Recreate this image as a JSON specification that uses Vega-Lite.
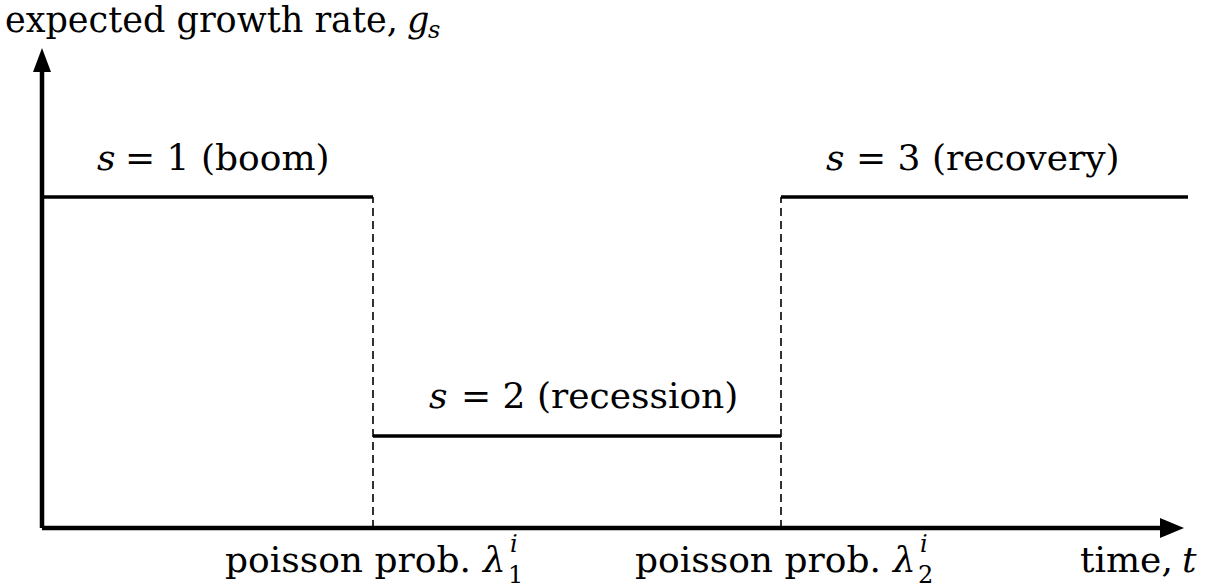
{
  "$schema": "https://vega.github.io/schema/vega-lite/v6.json",
  "width": 1218,
  "height": 588,
  "padding": 0,
  "autosize": {"type": "fit", "contains": "padding"},
  "background": "white",
  "config": {"view": {"stroke": null}},
  "datasets": {
    "vaxis": [{"x": 0, "y": 0, "y2": 4.56}],
    "haxis": [{"x": 0, "x2": 11.18, "y": 0}],
    "uparrow": [{"x": 0, "y": 4.68}],
    "rightarrow": [{"x": 11.30, "y": 0}],
    "steps": [
      {"x": 0, "x2": 3.31, "y": 3.31},
      {"x": 3.31, "x2": 7.39, "y": 0.92},
      {"x": 7.39, "x2": 11.46, "y": 3.31}
    ],
    "dashes": [
      {"x": 3.31, "y": 0, "y2": 3.31},
      {"x": 7.39, "y": 0, "y2": 3.31}
    ],
    "title": [
      {"x": -0.37, "y": 4.96, "label": "expected growth rate,"}
    ],
    "titleitalic": [
      {"x": 3.65, "y": 4.96, "label": "g"}
    ],
    "upright": [
      {"x": 0.83, "y": 3.58, "label": "= 1 (boom)"},
      {"x": 4.19, "y": 1.20, "label": "= 2 (recession)"},
      {"x": 8.14, "y": 3.58, "label": "= 3 (recovery)"},
      {"x": 1.83, "y": -0.44, "label": "poisson prob."},
      {"x": 5.93, "y": -0.44, "label": "poisson prob."},
      {"x": 10.38, "y": -0.44, "label": "time,"}
    ],
    "uprightsmall": [
      {"x": 4.66, "y": -0.545, "label": "1"},
      {"x": 8.76, "y": -0.545, "label": "2"}
    ],
    "italic": [
      {"x": 0.55, "y": 3.58, "label": "s"},
      {"x": 3.87, "y": 1.20, "label": "s"},
      {"x": 7.84, "y": 3.58, "label": "s"},
      {"x": 4.41, "y": -0.44, "label": "λ"},
      {"x": 8.51, "y": -0.44, "label": "λ"},
      {"x": 11.40, "y": -0.44, "label": "t"}
    ],
    "italicsmall": [
      {"x": 3.86, "y": 4.90, "label": "s"},
      {"x": 4.68, "y": -0.235, "label": "i"},
      {"x": 8.78, "y": -0.235, "label": "i"}
    ]
  },
  "layer": [
    {
      "data": {"name": "vaxis"},
      "mark": {"type": "rule", "strokeWidth": 4.5, "color": "black"},
      "encoding": {
        "x": {"field": "x", "type": "quantitative", "scale": {"domain": [-0.42, 11.76], "nice": false, "zero": false}, "axis": null},
        "y": {"field": "y", "type": "quantitative", "scale": {"domain": [-0.6, 5.28], "nice": false, "zero": false}, "axis": null},
        "y2": {"field": "y2"}
      }
    },
    {
      "data": {"name": "haxis"},
      "mark": {"type": "rule", "strokeWidth": 4.5, "color": "black"},
      "encoding": {
        "x": {"field": "x", "type": "quantitative", "axis": null},
        "x2": {"field": "x2"},
        "y": {"field": "y", "type": "quantitative", "axis": null}
      }
    },
    {
      "data": {"name": "uparrow"},
      "mark": {"type": "point", "shape": "M-0.75,1 L0,-1 L0.75,1 Z", "size": 576, "filled": true, "color": "black", "opacity": 1},
      "encoding": {
        "x": {"field": "x", "type": "quantitative", "axis": null},
        "y": {"field": "y", "type": "quantitative", "axis": null}
      }
    },
    {
      "data": {"name": "rightarrow"},
      "mark": {"type": "point", "shape": "M-1,-0.83 L1,0 L-1,0.83 Z", "size": 576, "filled": true, "color": "black", "opacity": 1},
      "encoding": {
        "x": {"field": "x", "type": "quantitative", "axis": null},
        "y": {"field": "y", "type": "quantitative", "axis": null}
      }
    },
    {
      "data": {"name": "steps"},
      "mark": {"type": "rule", "strokeWidth": 3.5, "color": "black"},
      "encoding": {
        "x": {"field": "x", "type": "quantitative", "axis": null},
        "x2": {"field": "x2"},
        "y": {"field": "y", "type": "quantitative", "axis": null}
      }
    },
    {
      "data": {"name": "dashes"},
      "mark": {"type": "rule", "strokeWidth": 1.6, "color": "black", "strokeDash": [8, 5]},
      "encoding": {
        "x": {"field": "x", "type": "quantitative", "axis": null},
        "y": {"field": "y", "type": "quantitative", "axis": null},
        "y2": {"field": "y2"}
      }
    },
    {
      "data": {"name": "title"},
      "mark": {"type": "text", "font": "DejaVu Serif", "fontSize": 35, "align": "left", "baseline": "alphabetic", "color": "black"},
      "encoding": {
        "x": {"field": "x", "type": "quantitative", "axis": null},
        "y": {"field": "y", "type": "quantitative", "axis": null},
        "text": {"field": "label"}
      }
    },
    {
      "data": {"name": "titleitalic"},
      "mark": {"type": "text", "font": "DejaVu Serif", "fontStyle": "italic", "fontSize": 35, "align": "left", "baseline": "alphabetic", "color": "black"},
      "encoding": {
        "x": {"field": "x", "type": "quantitative", "axis": null},
        "y": {"field": "y", "type": "quantitative", "axis": null},
        "text": {"field": "label"}
      }
    },
    {
      "data": {"name": "upright"},
      "mark": {"type": "text", "font": "DejaVu Serif", "fontSize": 36, "align": "left", "baseline": "alphabetic", "color": "black"},
      "encoding": {
        "x": {"field": "x", "type": "quantitative", "axis": null},
        "y": {"field": "y", "type": "quantitative", "axis": null},
        "text": {"field": "label"}
      }
    },
    {
      "data": {"name": "uprightsmall"},
      "mark": {"type": "text", "font": "DejaVu Serif", "fontSize": 24, "align": "left", "baseline": "alphabetic", "color": "black"},
      "encoding": {
        "x": {"field": "x", "type": "quantitative", "axis": null},
        "y": {"field": "y", "type": "quantitative", "axis": null},
        "text": {"field": "label"}
      }
    },
    {
      "data": {"name": "italic"},
      "mark": {"type": "text", "font": "DejaVu Serif", "fontStyle": "italic", "fontSize": 36, "align": "left", "baseline": "alphabetic", "color": "black"},
      "encoding": {
        "x": {"field": "x", "type": "quantitative", "axis": null},
        "y": {"field": "y", "type": "quantitative", "axis": null},
        "text": {"field": "label"}
      }
    },
    {
      "data": {"name": "italicsmall"},
      "mark": {"type": "text", "font": "DejaVu Serif", "fontStyle": "italic", "fontSize": 24, "align": "left", "baseline": "alphabetic", "color": "black"},
      "encoding": {
        "x": {"field": "x", "type": "quantitative", "axis": null},
        "y": {"field": "y", "type": "quantitative", "axis": null},
        "text": {"field": "label"}
      }
    }
  ]
}
